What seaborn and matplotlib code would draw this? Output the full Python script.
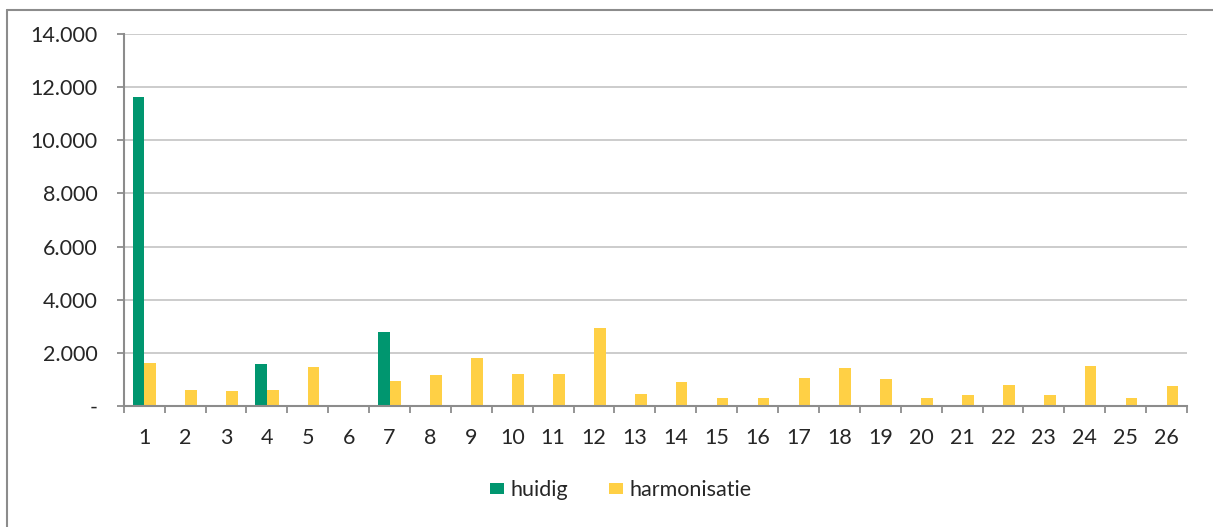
import pandas as pd
import seaborn as sns
import matplotlib.pyplot as plt
from matplotlib.lines import Line2D
from matplotlib.ticker import FuncFormatter, FixedLocator

categories = [str(i) for i in range(1, 27)]
huidig = [11630, 0, 0, 1580, 0, 0, 2780, 0, 0, 0, 0, 0, 0,
          0, 0, 0, 0, 0, 0, 0, 0, 0, 0, 0, 0, 0]
harmonisatie = [1620, 600, 560, 600, 1450, 20, 930, 1150, 1820, 1220, 1210, 2950, 460,
                920, 290, 290, 1050, 1440, 1030, 310, 430, 800, 430, 1520, 290, 760]
series = ["huidig", "harmonisatie"]
colors = ["#00966F", "#FFD045"]

df = pd.DataFrame({
    "cat": categories * 2,
    "value": huidig + harmonisatie,
    "serie": [series[0]] * 26 + [series[1]] * 26,
})

sns.set_style("white")
plt.rcParams["font.family"] = ["Lato", "DejaVu Sans"]
txt = "#262626"
fs = 15.5

fig = plt.figure(figsize=(12.13, 5.27), dpi=100)
ax = fig.add_axes([0.102, 0.2296, 0.8766, 0.7059])

sns.barplot(data=df, x="cat", y="value", hue="serie", palette=colors,
            width=0.57, gap=0, saturation=1, linewidth=0, ax=ax, legend=True)

ax.set_ylim(0, 14000)
ax.set_xlim(-0.5, 25.5)
ax.set_yticks(range(0, 14001, 2000))
ax.yaxis.set_major_formatter(FuncFormatter(
    lambda v, p: "-" if v == 0 else f"{int(v):,}".replace(",", ".")))
ax.grid(axis="y", color="#c8c8c8", linewidth=1.3)
ax.set_axisbelow(True)
for s in ["top", "right"]:
    ax.spines[s].set_visible(False)
for s in ["left", "bottom"]:
    ax.spines[s].set_color("#8c8c8c")
    ax.spines[s].set_linewidth(1.5)

ax.tick_params(axis="y", length=5, width=1.3, color="#8c8c8c", pad=14,
               labelsize=fs, labelcolor=txt, left=True)
ax.tick_params(axis="x", which="major", length=0, pad=16,
               labelsize=fs, labelcolor=txt)
ax.xaxis.set_minor_locator(FixedLocator([i - 0.5 for i in range(27)]))
ax.tick_params(axis="x", which="minor", length=5, width=1.3,
               color="#8c8c8c", bottom=True)
ax.set_xlabel("")
ax.set_ylabel("")

handles, labels = ax.get_legend_handles_labels()
ax.get_legend().remove()
fig.legend(handles, labels, loc="center", bbox_to_anchor=(0.512, 0.07),
           ncol=2, frameon=False, fontsize=fs, handlelength=0.65,
           handleheight=0.45, handletextpad=0.3, columnspacing=1.9,
           labelcolor=txt)

# outer frame of the original figure box
fig.add_artist(Line2D([0.0058, 0.0058], [0, 0.981], color="#8c8c8c",
                      linewidth=1.5, transform=fig.transFigure))
fig.add_artist(Line2D([0.0058, 1], [0.981, 0.981], color="#8c8c8c",
                      linewidth=1.5, transform=fig.transFigure))

fig.savefig("out.png", dpi=100)
